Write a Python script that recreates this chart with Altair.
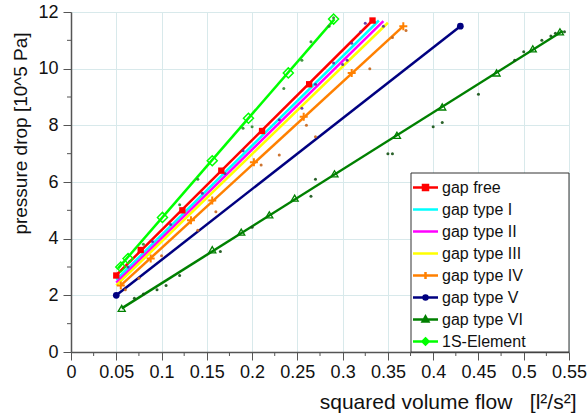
import altair as alt
import pandas as pd

# ---------------- data ----------------
series = ["gap free", "gap type I", "gap type II", "gap type III",
          "gap type IV", "gap type V", "gap type VI", "1S-Element"]
colors = ["#ff0000", "#00ffff", "#ff00ff", "#ffff00",
          "#ff8000", "#000080", "#008000", "#00ff00"]

# fitted lines (start / end points)
line_x0 = [0.048, 0.050, 0.050, 0.050, 0.055, 0.050, 0.056, 0.052]
line_y0 = [2.65, 2.55, 2.45, 2.35, 2.35, 2.00, 1.54, 2.95]
line_x1 = [0.333, 0.340, 0.345, 0.350, 0.367, 0.430, 0.543, 0.291]
line_y1 = [11.70, 11.70, 11.68, 11.62, 11.50, 11.50, 11.33, 11.75]

# markers on the curves
free_x = [0.050, 0.077, 0.123, 0.166, 0.211, 0.263, 0.333]
free_y = [2.70, 3.60, 5.00, 6.40, 7.80, 9.45, 11.70]
iv_x = [0.055, 0.088, 0.1325, 0.156, 0.202, 0.257, 0.310, 0.367]
iv_y = [2.35, 3.30, 4.65, 5.35, 6.70, 8.30, 9.85, 11.50]
v_x = [0.050, 0.430]
v_y = [2.00, 11.50]
vi_x = [0.056, 0.156, 0.188, 0.219, 0.247, 0.291, 0.360, 0.410, 0.470, 0.510, 0.540]
vi_y = [1.54, 3.61, 4.23, 4.84, 5.43, 6.29, 7.65, 8.65, 9.85, 10.70, 11.30]
s1_x = [0.055, 0.063, 0.101, 0.156, 0.196, 0.240, 0.290]
s1_y = [3.00, 3.30, 4.75, 6.75, 8.25, 9.85, 11.75]

# raw measurement dots scattered around the curves
raw_x = [0.063, 0.090, 0.110, 0.145, 0.170, 0.190, 0.230, 0.255, 0.270, 0.300, 0.305,
         0.320, 0.325, 0.335, 0.345, 0.310, 0.290,
         0.060, 0.075, 0.100, 0.140, 0.160, 0.210, 0.230, 0.260, 0.270, 0.330, 0.355, 0.370,
         0.070, 0.080, 0.095, 0.105, 0.120, 0.165, 0.200, 0.265, 0.270, 0.350, 0.355, 0.400,
         0.410, 0.450, 0.490, 0.500, 0.520, 0.530, 0.545, 0.535,
         0.065, 0.080, 0.120, 0.140, 0.190, 0.200, 0.235, 0.255, 0.265, 0.285, 0.290]
raw_y = [3.00, 3.90, 4.50, 5.60, 6.30, 7.10, 8.20, 8.60, 9.45, 10.15, 10.30,
         11.30, 11.60, 11.65, 11.50, 10.90, 10.20,
         2.20, 2.60, 3.40, 4.30, 4.95, 6.60, 6.95, 8.00, 7.60, 10.00, 11.10, 11.35,
         1.90, 2.05, 2.20, 2.35, 2.70, 3.55, 4.40, 5.50, 6.10, 7.00, 7.00, 7.95,
         8.10, 9.10, 10.30, 10.60, 11.00, 11.15, 11.30, 11.25,
         3.20, 3.80, 5.20, 6.10, 7.90, 7.95, 9.30, 10.30, 10.95, 11.50, 11.80]
raw_group = (["purple"] * 17 + ["brown"] * 12 + ["darkgreen"] * 20 + ["green"] * 11)

x_major = [0, 0.05, 0.1, 0.15, 0.2, 0.25, 0.3, 0.35, 0.4, 0.45, 0.5, 0.55]
x_minor = [0.025, 0.075, 0.125, 0.175, 0.225, 0.275, 0.325, 0.375, 0.425, 0.475, 0.525]
y_major = [0, 2, 4, 6, 8, 10, 12]
y_minor = [1, 3, 5, 7, 9, 11]

# ---------------- styles ----------------
raw_colors = {"purple": "#5a2d9c", "brown": "#c8651a", "darkgreen": "#145214", "green": "#2e8b2e"}
legend_paths = [
    "M-1.25,0H1.25M-0.25,-0.25H0.25V0.25H-0.25Z",
    "M-1.25,0H1.25",
    "M-1.25,0H1.25",
    "M-1.25,0H1.25",
    "M-1.25,0H1.25M0,-0.35V0.35",
    "M-1.25,0H1.25M0.2,0A0.2,0.2,0,1,1,-0.2,0A0.2,0.2,0,1,1,0.2,0",
    "M-1.25,0H1.25M0,-0.3L0.28,0.2H-0.28Z",
    "M-1.25,0H1.25M0,-0.3L0.3,0L0,0.3L-0.3,0Z",
]
FONT = "Liberation Sans"
W, H = 498, 340
col_of = dict(zip(series, colors))

# ---------------- tables ----------------
lines_df = pd.DataFrame({
    "series": [s for s in series for _ in range(2)],
    "x": [v for a, b in zip(line_x0, line_x1) for v in (a, b)],
    "y": [v for a, b in zip(line_y0, line_y1) for v in (a, b)],
})
free_df = pd.DataFrame({"x": free_x, "y": free_y})
iv_df = pd.DataFrame({"x": iv_x, "y": iv_y})
v_df = pd.DataFrame({"x": v_x, "y": v_y})
vi_df = pd.DataFrame({"x": vi_x, "y": vi_y})
s1_df = pd.DataFrame({"x": s1_x, "y": s1_y})
raw_df = pd.DataFrame({"x": raw_x, "y": raw_y, "c": [raw_colors[g] for g in raw_group]})
legend_df = pd.DataFrame({"series": series, "x": line_x0, "y": line_y0})

xscale = alt.Scale(domain=[0, 0.55], nice=False, zero=False)
yscale = alt.Scale(domain=[0, 12], nice=False, zero=False)

xaxis = alt.Axis(
    values=x_major, format=".2~f", grid=True, gridColor="#d8e9eb", gridWidth=1,
    tickSize=8, tickColor="#555", tickWidth=1, domainColor="#555", domainWidth=1.5,
    labelFont=FONT, labelFontSize=18, labelColor="#111", labelPadding=3,
    labelFlush=False, labelOverlap=False,
    title="squared volume flow\u00a0\u00a0\u00a0[l²/s²]", titleFont=FONT, titleFontSize=21,
    titleFontWeight="normal", titleColor="#111", titleAlign="right",
    titleAnchor="end", titleX=505, titleY=56, titleBaseline="alphabetic",
)
yaxis = alt.Axis(
    values=y_major, grid=True, gridColor="#d8e9eb", gridWidth=1,
    tickSize=8, tickColor="#555", tickWidth=1, domainColor="#555", domainWidth=1.5,
    labelFont=FONT, labelFontSize=18, labelColor="#111", labelPadding=5,
    labelFlush=False, labelOverlap=False,
    title="pressure drop [10^5 Pa]", titleFont=FONT, titleFontSize=19,
    titleFontWeight="normal", titleColor="#111", titleAlign="center",
    titleX=-51, titleY=121, titleBaseline="middle", titleAngle=270,
)

X = alt.X("x:Q", scale=xscale, axis=xaxis)
Y = alt.Y("y:Q", scale=yscale, axis=yaxis)
Xs = alt.X("x:Q", scale=xscale)
Ys = alt.Y("y:Q", scale=yscale)

minor_x = alt.Chart(pd.DataFrame({"x": x_minor})).mark_rule(color="#555", strokeWidth=1).encode(
    x=Xs, y=alt.value(H), y2=alt.value(H + 4))
minor_y = alt.Chart(pd.DataFrame({"y": y_minor})).mark_rule(color="#555", strokeWidth=1).encode(
    y=Ys, x=alt.value(0), x2=alt.value(-4))

line_layers = []
for i, s in enumerate(series):
    enc_x = X if i == 0 else Xs
    enc_y = Y if i == 0 else Ys
    line_layers.append(
        alt.Chart(lines_df).transform_filter(alt.datum.series == s)
        .mark_line(strokeWidth=2.5, color=col_of[s]).encode(x=enc_x, y=enc_y)
    )

raw = alt.Chart(raw_df).mark_circle(size=9, opacity=0.9).encode(
    x=Xs, y=Ys, fill=alt.Fill("c:N", scale=None, legend=None))

m_free = alt.Chart(free_df).mark_point(shape="square", filled=True, size=40, opacity=1,
                                       color=col_of["gap free"]).encode(x=Xs, y=Ys)
m_iv = alt.Chart(iv_df).mark_point(shape="M-1,0H1M0,-1V1", filled=False, size=64,
                                   strokeWidth=2, opacity=1,
                                   color=col_of["gap type IV"]).encode(x=Xs, y=Ys)
m_v = alt.Chart(v_df).mark_point(shape="circle", filled=True, size=45, opacity=1,
                                 color=col_of["gap type V"]).encode(x=Xs, y=Ys)
m_vi = alt.Chart(vi_df).mark_point(shape="triangle-up", filled=False, size=50,
                                   strokeWidth=1.3, opacity=1,
                                   color=col_of["gap type VI"]).encode(x=Xs, y=Ys)
m_s1 = alt.Chart(s1_df).mark_point(shape="diamond", filled=False, size=100,
                                   strokeWidth=1.5, opacity=1,
                                   color=col_of["1S-Element"]).encode(x=Xs, y=Ys)

legend_box = alt.Chart(pd.DataFrame({"a": [0]})).mark_rect(
    fill="white", stroke="#333", strokeWidth=1).encode(
    x=alt.value(340), x2=alt.value(W), y=alt.value(161), y2=alt.value(H))

leg = dict(orient="none", legendX=340, legendY=161, title=None, padding=3,
           labelFont=FONT, labelFontSize=16, labelColor="#111", labelOffset=5,
           symbolSize=400, symbolStrokeWidth=2.5, rowPadding=2, zindex=1)
legend_layer = alt.Chart(legend_df).transform_filter("false").mark_point(
    filled=False, strokeWidth=2.5, opacity=1).encode(
    x=Xs, y=Ys,
    color=alt.Color("series:N", scale=alt.Scale(domain=series, range=colors),
                    legend=alt.Legend(**leg)),
    shape=alt.Shape("series:N", scale=alt.Scale(domain=series, range=legend_paths),
                    legend=alt.Legend(**leg)))

chart = alt.layer(
    *line_layers, raw, m_free, m_iv, m_v, m_vi, m_s1, minor_x, minor_y, legend_box, legend_layer
).properties(
    width=W, height=H,
    autosize=alt.AutoSizeParams(type="none"),
    padding={"left": 71, "top": 12, "right": 19, "bottom": 65},
).configure_view(
    stroke="#808080", strokeWidth=1.5
).configure(background="white")

chart.save("out.html", embed_options={"renderer": "svg", "actions": False})
